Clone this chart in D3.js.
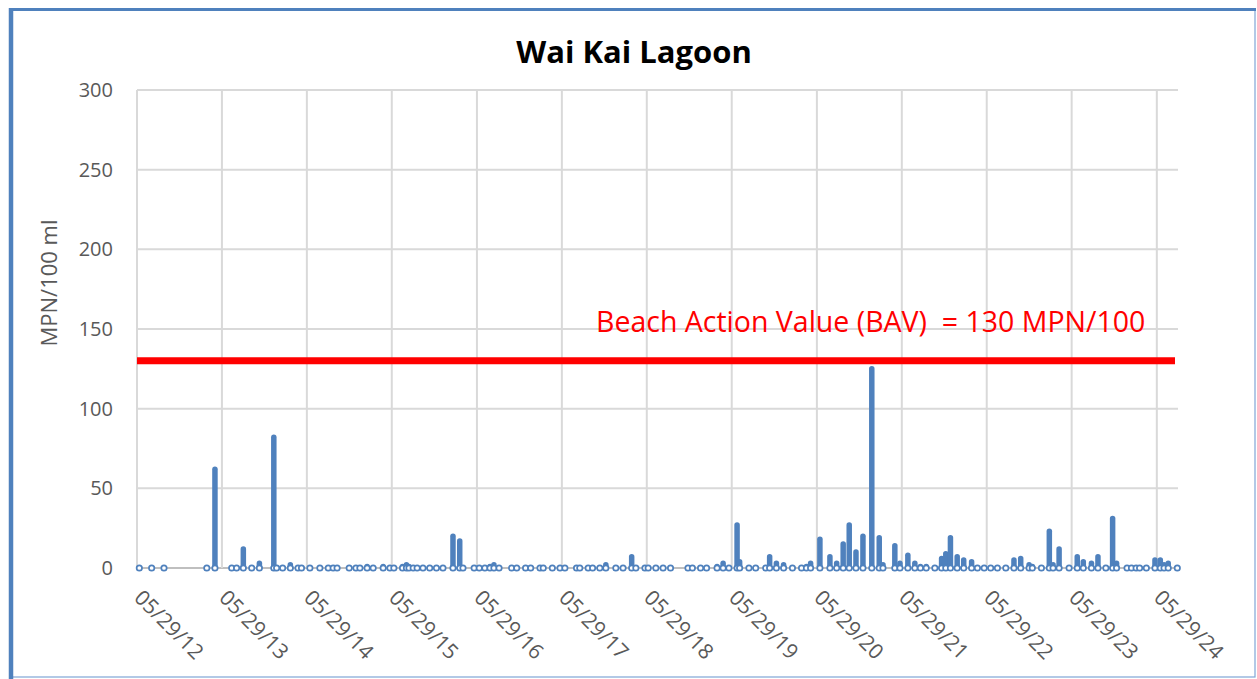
<!DOCTYPE html>
<html>
<head>
<meta charset="utf-8">
<script src="https://cdn.jsdelivr.net/npm/d3@7"></script>
<style>
  body { margin: 0; background: #fff; }
  svg text { font-family: "Open Sans", sans-serif; white-space: pre; }
</style>
</head>
<body>
<div id="chart"></div>
<script>
// samples: date (yyyy-mm-dd) and enterococcus count MPN/100 ml
var dates = [
  "2012-06-08","2012-07-31","2012-09-22","2013-03-25","2013-04-29",
  "2013-07-10","2013-07-31","2013-08-29","2013-10-04","2013-11-06","2014-01-07","2014-01-19","2014-02-14","2014-03-19","2014-04-21","2014-05-06",
  "2014-06-11","2014-07-24","2014-08-29","2014-09-19","2014-10-06","2014-11-27","2014-12-26","2015-01-12","2015-02-12","2015-03-10","2015-04-22",
  "2015-05-21","2015-06-07","2015-07-14","2015-07-31","2015-08-11","2015-08-29","2015-09-15","2015-10-10","2015-11-08","2015-12-07","2016-01-04","2016-02-16","2016-03-16","2016-03-30","2016-05-17",
  "2016-06-08","2016-07-02","2016-07-24","2016-08-10","2016-09-01","2016-10-25","2016-11-16","2016-12-24","2017-01-15","2017-02-24","2017-03-10","2017-04-18","2017-05-21",
  "2017-06-11","2017-07-31","2017-08-14","2017-09-19","2017-10-08","2017-11-08","2017-12-04","2018-01-16","2018-02-16","2018-03-25","2018-04-12","2018-05-21",
  "2018-06-04","2018-07-07","2018-08-07","2018-09-08","2018-11-22","2018-12-11","2019-01-15","2019-02-10","2019-03-27","2019-04-22","2019-05-17",
  "2019-06-21","2019-07-02","2019-08-11","2019-09-09","2019-10-22","2019-11-08","2019-12-07","2020-01-07","2020-02-14","2020-03-24","2020-04-14","2020-05-02",
  "2020-06-11","2020-07-24","2020-08-22","2020-09-19","2020-10-15","2020-11-13","2020-12-13","2021-01-20","2021-02-21","2021-03-09","2021-04-29","2021-05-21",
  "2021-06-24","2021-07-24","2021-08-17","2021-09-11","2021-10-18","2021-11-16","2021-12-04","2021-12-24","2022-01-22","2022-02-19","2022-03-25","2022-04-19","2022-05-18",
  "2022-06-15","2022-07-14","2022-08-19","2022-09-23","2022-10-22","2022-11-27","2022-12-11","2023-01-19","2023-02-22","2023-03-10","2023-04-05","2023-05-18",
  "2023-06-22","2023-07-18","2023-08-22","2023-09-19","2023-10-23","2023-11-21","2023-12-08","2024-01-22","2024-02-10","2024-03-01","2024-03-16","2024-04-14","2024-05-21",
  "2024-06-13","2024-06-29","2024-07-17","2024-08-25"
];
var counts = [
  0,0,0,0,62,
  0,0,12,0,3,82,0,0,2,0,0,
  0,0,0,0,0,0,0,0,1,0,1,
  0,0,1,2,1,0,0,0,0,0,0,20,17,0,0,
  0,0,1,2,0,0,0,0,0,0,0,0,0,
  0,0,0,0,0,0,2,0,0,7,0,0,
  0,0,0,0,0,0,0,0,1,3,0,
  27,4,0,0,0,7,3,2,0,0,1,3,
  18,7,3,15,27,10,20,125,19,2,14,3,
  8,3,1,1,0,6,9,19,7,5,4,0,0,
  0,0,0,5,6,2,1,0,23,2,12,0,
  7,4,3,7,0,31,3,0,0,0,0,0,5,
  5,2,3,0
];
var xTicks = ["2012-05-29","2013-05-29","2014-05-29","2015-05-29","2016-05-29","2017-05-29",
              "2018-05-29","2019-05-29","2020-05-29","2021-05-29","2022-05-29","2023-05-29","2024-05-29"];
var yTicks = [0, 50, 100, 150, 200, 250, 300];
var bav = 130;
var title = "Wai Kai Lagoon";
var bavLabel = "Beach Action Value (BAV)  = 130 MPN/100";
var yLabel = "MPN/100 ml";

var W = 1257, H = 679;
var parse = d3.timeParse("%Y-%m-%d");
var fmt = d3.timeFormat("%m/%d/%y");
var blue = "#4f81bd";

var svg = d3.select("#chart").append("svg")
    .attr("width", W).attr("height", H);

// frame
svg.append("rect").attr("x", 11).attr("y", 9).attr("width", 1244).attr("height", 668)
    .attr("fill", "#fff").attr("stroke", "#7fa6d6").attr("stroke-width", 1.2);
svg.append("line").attr("x1", 11).attr("x2", 11).attr("y1", 8).attr("y2", 679)
    .attr("stroke", blue).attr("stroke-width", 4.5);
svg.append("line").attr("x1", 9).attr("x2", 1256).attr("y1", 9.5).attr("y2", 9.5)
    .attr("stroke", blue).attr("stroke-width", 3);

var x = d3.scaleTime()
    .domain([parse("2012-05-29"), parse("2024-08-28")])
    .range([137, 1178]);
var y = d3.scaleLinear().domain([0, 300]).range([568, 90]);

var data = dates.map(function (d, i) { return { date: parse(d), v: counts[i] }; });

// gridlines
svg.append("g").selectAll("line.h")
    .data(yTicks).enter().append("line")
    .attr("x1", x.range()[0]).attr("x2", x.range()[1])
    .attr("y1", function (d) { return y(d); }).attr("y2", function (d) { return y(d); })
    .attr("stroke", function (d) { return d === 0 ? "#bfbfbf" : "#d9d9d9"; })
    .attr("stroke-width", 2);
svg.append("g").selectAll("line.v")
    .data(xTicks).enter().append("line")
    .attr("x1", function (d) { return x(parse(d)); }).attr("x2", function (d) { return x(parse(d)); })
    .attr("y1", y(300)).attr("y2", y(0))
    .attr("stroke", "#d9d9d9").attr("stroke-width", 2);

// y tick labels
svg.append("g").selectAll("text")
    .data(yTicks).enter().append("text")
    .attr("x", 113).attr("y", function (d) { return y(d) + 7; })
    .attr("text-anchor", "end")
    .attr("font-size", 20).attr("fill", "#595959")
    .text(function (d) { return d; });

// x tick labels, rotated
svg.append("g").selectAll("text")
    .data(xTicks).enter().append("text")
    .attr("transform", function (d) { return "translate(" + (x(parse(d)) - 4) + ",599) rotate(45)"; })
    .attr("font-size", 21).attr("fill", "#595959")
    .text(function (d) { return fmt(parse(d)); });

// stems
svg.append("g").selectAll("line")
    .data(data.filter(function (d) { return d.v > 0; })).enter().append("line")
    .attr("x1", function (d) { return x(d.date); }).attr("x2", function (d) { return x(d.date); })
    .attr("y1", y(0)).attr("y2", function (d) { return y(d.v); })
    .attr("stroke", blue).attr("stroke-width", 5.5).attr("stroke-linecap", "round");

// markers at the base
svg.append("g").selectAll("circle")
    .data(data).enter().append("circle")
    .attr("cx", function (d) { return x(d.date); })
    .attr("cy", y(0))
    .attr("r", 2.7)
    .attr("fill", "#fff").attr("stroke", blue).attr("stroke-width", 1.7);

// BAV line
svg.append("line")
    .attr("x1", x.range()[0]).attr("x2", x.range()[1] - 3)
    .attr("y1", y(bav)).attr("y2", y(bav))
    .attr("stroke", "#ff0000").attr("stroke-width", 7);
svg.append("text")
    .attr("x", 596).attr("y", 332)
    .attr("font-size", 28.5).attr("fill", "#ff0000")
    .text(bavLabel);

// titles
svg.append("text")
    .attr("x", 634).attr("y", 63)
    .attr("text-anchor", "middle")
    .attr("font-size", 31).attr("font-weight", "bold").attr("fill", "#000")
    .text(title);
svg.append("text")
    .attr("transform", "translate(57,283) rotate(-90)")
    .attr("text-anchor", "middle")
    .attr("font-size", 22).attr("fill", "#595959")
    .text(yLabel);
</script>
</body>
</html>
